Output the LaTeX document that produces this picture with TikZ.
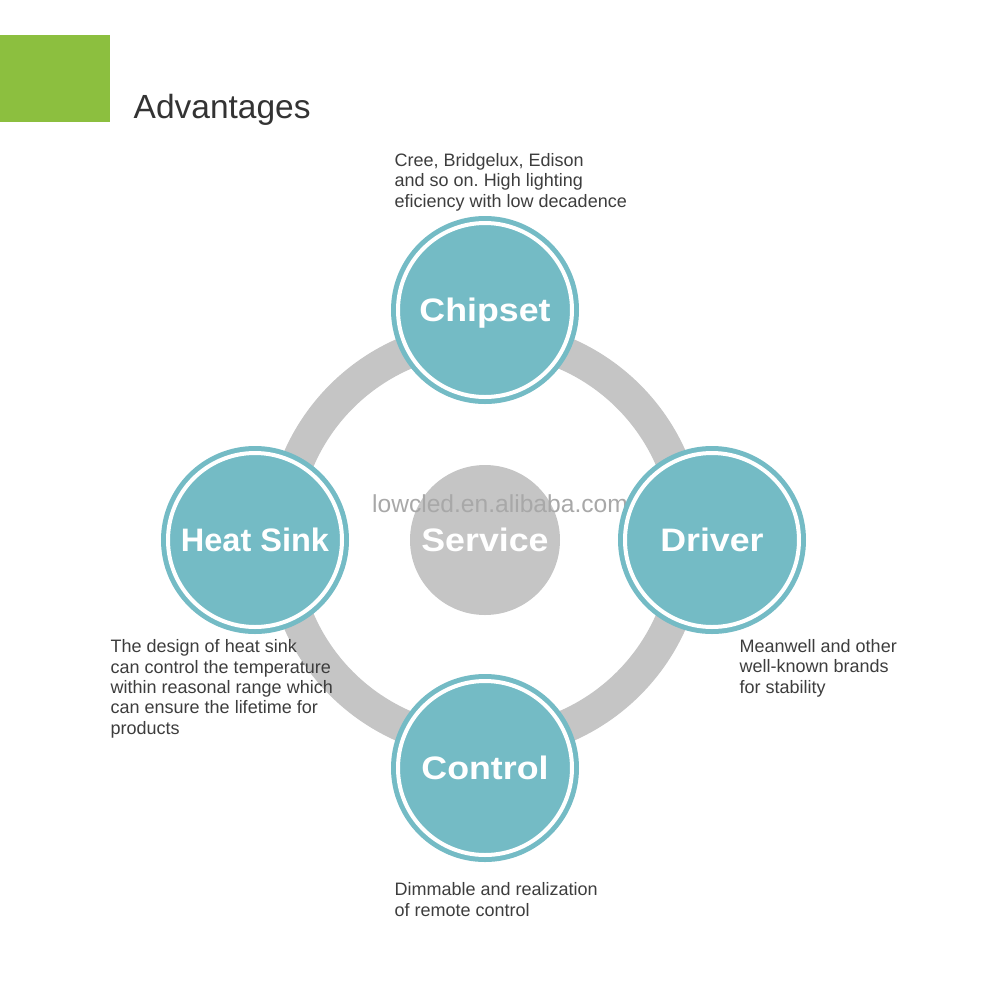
\documentclass[tikz,border=0pt]{standalone}
\usepackage{fontspec}
\setmainfont{Liberation Sans}
\newfontfamily\labelfont[FakeStretch=1.1]{Liberation Sans}
\usepackage{tikz}
\usetikzlibrary{positioning}
\frenchspacing

\definecolor{leafgreen}{HTML}{8CBF3F}
\definecolor{bubbleteal}{HTML}{74BBC5}
\definecolor{ringgray}{HTML}{C5C5C5}
\definecolor{notegray}{HTML}{3D3D3D}
\definecolor{markgray}{HTML}{A8A8A8}

\tikzset{
  bubble/.style={circle, fill=bubbleteal, draw=white, line width=0.4mm,
    minimum size=17.4mm, inner sep=0pt, text=white,
    text height=2.3mm, text depth=0pt,
    font=\labelfont\bfseries\fontsize{3.25mm}{3.6mm}\selectfont,
    preaction={draw=bubbleteal, line width=1.4mm}},
  hub/.style={circle, fill=ringgray, minimum size=15mm, inner sep=0pt, text=white,
    text height=2.3mm, text depth=0pt,
    font=\labelfont\bfseries\fontsize{3.25mm}{3.6mm}\selectfont},
  note/.style={anchor=base west, align=left, inner sep=0pt, text=notegray,
    font=\fontsize{1.8mm}{2.03mm}\selectfont}
}

\begin{document}
\begin{tikzpicture}[x=0.1mm, y=-0.1mm]
  \def\ringr{203} % radius of the grey ring
  \useasboundingbox (0,0) rectangle (1000,1003);
  % title
  \fill[leafgreen] (0,35) rectangle (110,122);
  \node[anchor=base west, inner sep=0pt, text=black!80,
    font=\fontsize{3.35mm}{4mm}\selectfont] (title) at (133,118) {Advantages};
  % grey ring behind the bubbles
  \draw[ringgray, line width=3.3mm] (485,540) circle[radius=\ringr];
  \node[hub] (service) at (485,540) {Service};
  \node[anchor=base, inner sep=0pt, text=markgray,
    font=\fontsize{2.46mm}{3mm}\selectfont] (mark) at (500,512) {lowcled.en.alibaba.com};
  % the four bubbles
  \foreach \nm/\x/\y/\txt in {chipset/485/310/Chipset, driver/712/540/Driver,
      control/485/768/Control} {
    \node[bubble] (\nm) at (\x,\y) {\txt};
  }
  \node[bubble, font=\bfseries\fontsize{3.25mm}{3.6mm}\selectfont] (heatsink) at (255,540) {Heat Sink};
  % notes (placed by the baseline of their last line)
  \node[note] (chipsetnote) at (394,207) {Cree, Bridgelux, Edison\\and so on. High lighting\\eficiency with low decadence};
  \node[note] (drivernote) at (739,693) {Meanwell and other\\well-known brands\\for stability};
  \node[note] (heatsinknote) at (110,734) {The design of heat sink\\can control the temperature\\within reasonal range which\\can ensure the lifetime for\\products};
  \node[note] (controlnote) at (394,916) {Dimmable and realization\\of remote control};
\end{tikzpicture}
\end{document}
